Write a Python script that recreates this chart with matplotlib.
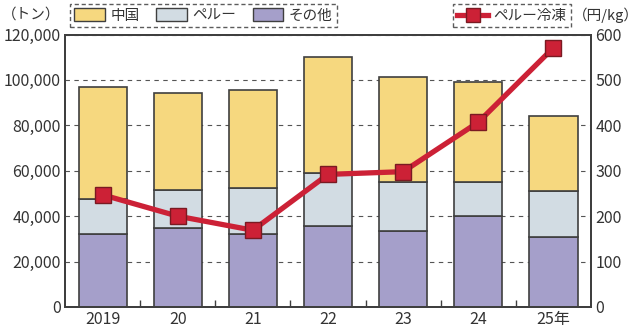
import matplotlib.pyplot as plt
from matplotlib.patches import Patch
from matplotlib.lines import Line2D
from matplotlib.ticker import FuncFormatter

plt.rcParams['font.family'] = ['Noto Sans CJK JP', 'DejaVu Sans']

# データ（トン、円/kg）
years = ['2019', '20', '21', '22', '23', '24', '25年']
other = [32300, 35000, 32000, 35500, 33300, 40000, 30600]
peru = [15100, 16700, 20600, 23700, 21800, 15100, 20500]
china = [49300, 42700, 42900, 50800, 46100, 44000, 32900]
peru_frozen_price = [247, 200, 169, 292, 298, 407, 571]

c_china = '#F6D87F'
c_peru = '#D2DCE3'
c_other = '#A59FCA'
c_line = '#CC2136'
c_edge = '#3f3f3f'

fig = plt.figure(figsize=(6.4, 3.29), dpi=100)
ax = fig.add_axes([0.1016, 0.067, 0.8219, 0.828])
ax2 = ax.twinx()

x = range(len(years))
w = 0.64
ax.bar(x, other, w, color=c_other, edgecolor=c_edge, linewidth=1.2, zorder=2)
b1 = [o for o in other]
ax.bar(x, peru, w, bottom=b1, color=c_peru, edgecolor=c_edge, linewidth=1.2, zorder=2)
b2 = [o + p for o, p in zip(other, peru)]
ax.bar(x, china, w, bottom=b2, color=c_china, edgecolor=c_edge, linewidth=1.2, zorder=2)

ax.set_ylim(0, 120000)
ax.set_xlim(-0.5, len(years) - 0.5)
ax.set_yticks(range(0, 120001, 20000))
ax.yaxis.set_major_formatter(FuncFormatter(lambda v, p: f'{int(v):,}'))
ax.set_xticks(list(x))
ax.set_xticklabels(years)
ax.set_xticks([i + 0.5 for i in range(len(years) - 1)], minor=True)
ax.tick_params(axis='x', which='major', length=0, labelsize=11.5, colors='#333', pad=3)
ax.tick_params(axis='x', which='minor', direction='in', length=5, width=1, color=c_edge)
ax.tick_params(axis='y', length=0, labelsize=11.5, colors='#333', pad=3)
ax.grid(axis='y', linestyle=(0, (4, 4)), color='#555', linewidth=0.8, zorder=0)
ax.set_axisbelow(True)

ax2.plot(list(x), peru_frozen_price, color=c_line, linewidth=3.8, marker='s',
         markersize=12, markerfacecolor=c_line, markeredgecolor='#7a1a22',
         markeredgewidth=1, zorder=5)
ax2.set_ylim(0, 600)
ax2.set_yticks(range(0, 601, 100))
ax2.tick_params(axis='y', length=0, labelsize=11.5, colors='#333', pad=3)

for a in (ax, ax2):
    for s in a.spines.values():
        s.set_color(c_edge)
        s.set_linewidth(1.4)

fig.text(0.003, 0.955, '（トン）', fontsize=10.5, color='#333', va='center', ha='left')
fig.text(0.999, 0.955, '（円/kg）', fontsize=10.5, color='#333', va='center', ha='right')

handles = [Patch(facecolor=c_china, edgecolor=c_edge, label='中国'),
           Patch(facecolor=c_peru, edgecolor=c_edge, label='ペルー'),
           Patch(facecolor=c_other, edgecolor=c_edge, label='その他')]
leg1 = fig.legend(handles=handles, ncol=3, loc='lower left',
                  bbox_to_anchor=(70 / 640, 1 - 27 / 329), fontsize=10.5,
                  frameon=True, fancybox=False, handlelength=2.1, handleheight=0.95,
                  columnspacing=1.1, handletextpad=0.4, borderpad=0.3,
                  borderaxespad=0)
fr = leg1.get_frame()
fr.set_linestyle((0, (3, 2)))
fr.set_edgecolor('#333')
fr.set_linewidth(1.0)
for t in leg1.get_texts():
    t.set_color('#333')

h2 = [Line2D([0], [0], color=c_line, linewidth=3.8, marker='s', markersize=10,
             markerfacecolor=c_line, markeredgecolor='#7a1a22', label='ペルー冷凍')]
leg2 = fig.legend(handles=h2, loc='lower left', bbox_to_anchor=(453 / 640, 1 - 27 / 329),
                  fontsize=10.5, frameon=True, fancybox=False, handlelength=2.1,
                  handletextpad=0.35, borderpad=0.3, borderaxespad=0)
fr2 = leg2.get_frame()
fr2.set_linestyle((0, (3, 2)))
fr2.set_edgecolor('#333')
fr2.set_linewidth(1.0)
for t in leg2.get_texts():
    t.set_color('#333')

fig.savefig('out.png', dpi=100)
